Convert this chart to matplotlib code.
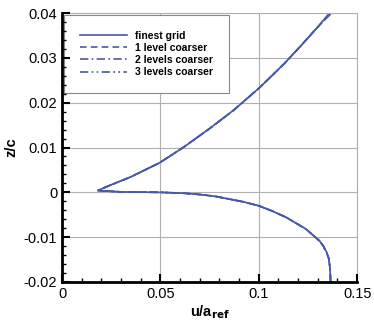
import matplotlib.pyplot as plt
from matplotlib.ticker import MultipleLocator, FuncFormatter

plt.rcParams['font.family'] = ['Liberation Sans', 'DejaVu Sans']

# upper branch of the profile (from the cusp upward)
u_up = [0.0182, 0.0245, 0.0347, 0.0496, 0.0619, 0.0755, 0.0874, 0.1005, 0.1129, 0.1214, 0.1300, 0.1359]
z_up = [0.0004, 0.0016, 0.0034, 0.0066, 0.0101, 0.0144, 0.0184, 0.0234, 0.0287, 0.0327, 0.0369, 0.0400]

# lower branch (from the cusp downward)
u_lo = [0.0182, 0.030, 0.050, 0.062, 0.0704, 0.078, 0.0838, 0.092, 0.100, 0.107, 0.114,
        0.124, 0.1308, 0.1328, 0.1344, 0.1356, 0.1362, 0.1365]
z_lo = [0.0004, 0.0001, 0.0, -0.0002, -0.0005, -0.0009, -0.0014, -0.0021, -0.0030, -0.0042,
        -0.0056, -0.0082, -0.0108, -0.0120, -0.0133, -0.0148, -0.0170, -0.0200]

# coarser grids differ only slightly near the top
u_top = {'finest grid': 0.1359, '1 level coarser': 0.1364,
         '2 levels coarser': 0.1367, '3 levels coarser': 0.1370}
labels = ['finest grid', '1 level coarser', '2 levels coarser', '3 levels coarser']
styles = ['-', (0, (4, 2.5)), (0, (5, 2, 1, 2)), (0, (5, 2, 1, 2, 1, 2))]
color = '#4a58a8'

rect = [0.166, 0.135, 0.789, 0.825]
fig = plt.figure(figsize=(3.74, 3.26), dpi=100)

# grid lives on a background axes so the legend can hide it while ticks stay on top
bg = fig.add_axes(rect)
bg.set_xlim(0, 0.15)
bg.set_ylim(-0.02, 0.04)
bg.xaxis.set_major_locator(MultipleLocator(0.05))
bg.yaxis.set_major_locator(MultipleLocator(0.01))
bg.grid(True, color='#b0b0b0', lw=0.8)
bg.tick_params(length=0, labelleft=False, labelbottom=False)
for s in bg.spines.values():
    s.set_visible(False)

ax = fig.add_axes(rect)
ax.patch.set_visible(False)
ax.set_axisbelow(False)

for lab, ls in zip(labels, styles):
    uu = u_lo[::-1] + u_up[1:-1] + [u_top[lab]]
    zz = z_lo[::-1] + z_up[1:-1] + [z_up[-1]]
    ax.plot(uu, zz, color=color, lw=1.2, ls=ls, label=lab)

ax.set_xlim(0, 0.15)
ax.set_ylim(-0.02, 0.04)
ax.xaxis.set_major_locator(MultipleLocator(0.05))
ax.xaxis.set_minor_locator(MultipleLocator(0.01))
ax.yaxis.set_major_locator(MultipleLocator(0.01))
ax.yaxis.set_minor_locator(MultipleLocator(0.002))
fmt = FuncFormatter(lambda v, p: '0' if abs(v) < 1e-9 else ('%g' % round(v, 4)))
ax.xaxis.set_major_formatter(fmt)
ax.yaxis.set_major_formatter(fmt)
ax.tick_params(which='both', direction='in', top=False, right=False, labelsize=10.5)
ax.tick_params(which='major', length=6, width=1.5)
ax.tick_params(which='minor', length=3, width=1)

for s in ['left', 'bottom']:
    ax.spines[s].set_linewidth(2)
for s in ['top', 'right']:
    ax.spines[s].set_color('#b0b0b0')
    ax.spines[s].set_linewidth(0.8)

ax.set_xlabel('u/a$_{\\mathbf{ref}}$', fontsize=10.5, fontweight='bold', labelpad=2)
ax.set_ylabel('z/c', fontsize=10.5, fontweight='bold', labelpad=4)

leg = ax.legend(loc='upper left', bbox_to_anchor=(0.007, 0.993), borderaxespad=0,
                fancybox=False, edgecolor='#888888', prop={'size': 7.5, 'weight': 'bold'},
                handlelength=4.5, borderpad=1.5, labelspacing=0.22, framealpha=1)
leg.get_frame().set_linewidth(0.8)
leg.set_zorder(2.4)  # spine and ticks (2.5) drawn over the legend box

fig.savefig('out.png', dpi=100)
